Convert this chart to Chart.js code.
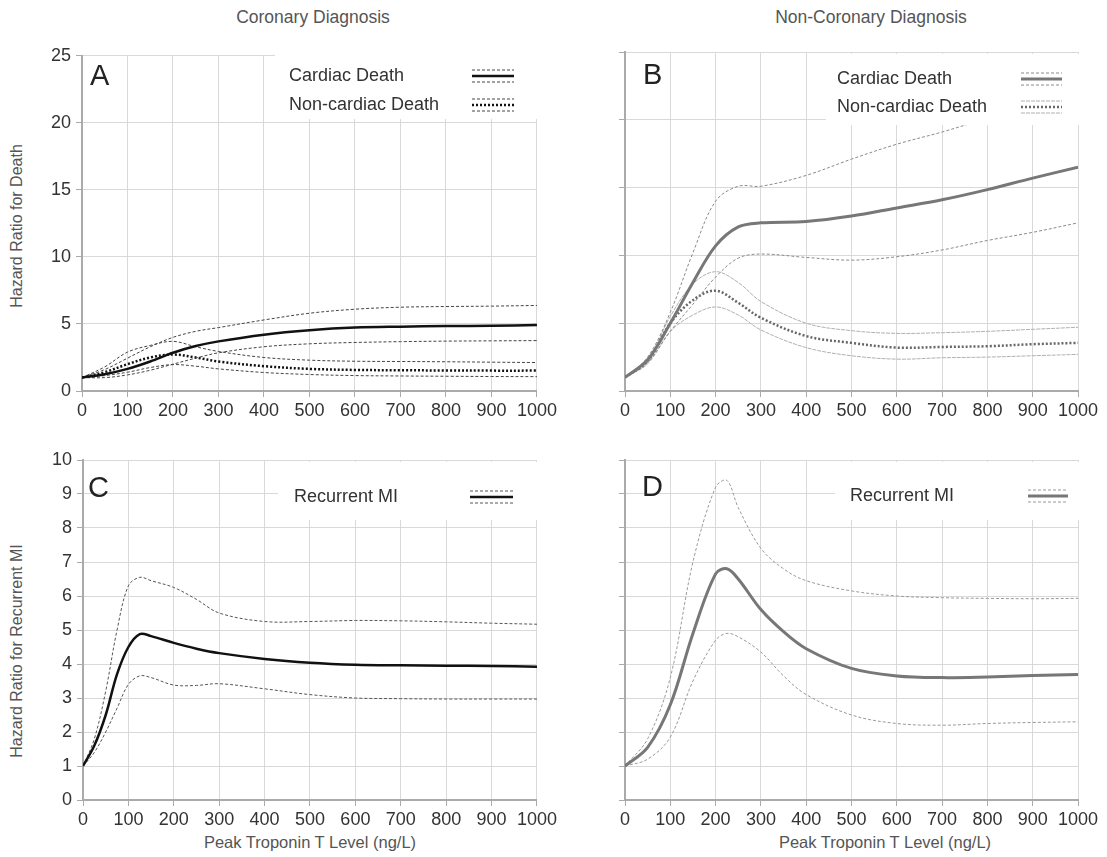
<!DOCTYPE html>
<html>
<head>
<meta charset="utf-8">
<script src="https://cdn.jsdelivr.net/npm/chart.js@4.4.1/dist/chart.umd.min.js"></script>
<style>
  body { margin: 0; background: #fff; font-family: "Liberation Sans", Arial, sans-serif; }
  #page { position: relative; width: 1107px; height: 857px; overflow: hidden; }
  canvas { position: absolute; }
  .lbl { position: absolute; color: #555; white-space: nowrap; transform: translate(-50%, -50%); }
  .rot { transform: translate(-50%, -50%) rotate(-90deg); }
</style>
</head>
<body>
<div id="page">
  <div class="lbl" style="left:313px;top:17px;font-size:17.5px">Coronary Diagnosis</div>
  <div class="lbl" style="left:871px;top:17px;font-size:17.5px">Non-Coronary Diagnosis</div>
  <div class="lbl rot" style="left:17px;top:226px;font-size:16px">Hazard Ratio for Death</div>
  <div class="lbl rot" style="left:17px;top:651px;font-size:16px">Hazard Ratio for Recurrent MI</div>
  <div class="lbl" style="left:310px;top:842px;font-size:16.5px">Peak Troponin T Level (ng/L)</div>
  <div class="lbl" style="left:885px;top:842px;font-size:16.5px">Peak Troponin T Level (ng/L)</div>

  <canvas id="chartA" width="560" height="380" style="left:0;top:40px"></canvas>
  <canvas id="chartB" width="547" height="380" style="left:560px;top:40px"></canvas>
  <canvas id="chartC" width="560" height="417" style="left:0;top:440px"></canvas>
  <canvas id="chartD" width="547" height="417" style="left:560px;top:440px"></canvas>
</div>
<script>
// Peak troponin T (ng/L) sample points and hazard ratios with 95% CI
var troponinAB = [0, 50, 100, 150, 200, 250, 300, 400, 500, 600, 700, 800, 900, 1000];

// A: coronary diagnosis, death
var cardiacA   = [1, 1.25, 1.65, 2.2, 2.85, 3.35, 3.7, 4.2, 4.53, 4.73, 4.8, 4.84, 4.87, 4.92];
var cardiacALo = [1, 1.0, 1.2, 1.55, 2.0, 2.45, 2.85, 3.3, 3.52, 3.62, 3.68, 3.72, 3.74, 3.76];
var cardiacAHi = [1, 1.6, 2.45, 3.3, 4.0, 4.45, 4.73, 5.3, 5.8, 6.1, 6.25, 6.3, 6.33, 6.38];
var nonCardA   = [1, 1.4, 2.0, 2.5, 2.72, 2.5, 2.2, 1.85, 1.65, 1.57, 1.55, 1.53, 1.52, 1.52];
var nonCardALo = [1, 1.15, 1.4, 1.75, 1.97, 1.85, 1.65, 1.38, 1.23, 1.15, 1.12, 1.1, 1.08, 1.07];
var nonCardAHi = [1, 1.8, 2.9, 3.4, 3.7, 3.3, 2.95, 2.5, 2.3, 2.22, 2.2, 2.18, 2.15, 2.12];

// B: non-coronary diagnosis, death
var cardiacB   = [1, 2.3, 5.0, 8.0, 10.7, 12.1, 12.4, 12.5, 12.9, 13.5, 14.1, 14.85, 15.7, 16.5];
var cardiacBLo = [1, 2.1, 4.4, 6.4, 8.4, 9.8, 10.1, 9.85, 9.65, 9.9, 10.4, 11.1, 11.7, 12.4];
var cardiacBHi = [1, 2.5, 5.8, 10.2, 14.0, 15.1, 15.1, 15.9, 17.1, 18.2, 19.1, 20.1, 21.0, 21.9];
var nonCardB   = [1, 2.2, 5.0, 6.7, 7.4, 6.5, 5.4, 4.05, 3.55, 3.2, 3.25, 3.3, 3.45, 3.55];
var nonCardBLo = [1, 2.0, 4.4, 5.6, 6.2, 5.6, 4.5, 3.2, 2.6, 2.35, 2.45, 2.5, 2.6, 2.7];
var nonCardBHi = [1, 2.3, 5.5, 7.9, 8.8, 8.0, 6.6, 5.0, 4.45, 4.25, 4.3, 4.4, 4.55, 4.7];

// C: coronary diagnosis, recurrent MI
var troponinC = [0, 25, 50, 75, 100, 125, 150, 200, 250, 300, 400, 500, 600, 700, 800, 900, 1000];
var recurC    = [1, 1.6, 2.5, 3.7, 4.5, 4.88, 4.82, 4.62, 4.45, 4.32, 4.15, 4.04, 3.98, 3.96, 3.95, 3.94, 3.92];
var recurCLo  = [1, 1.4, 2.0, 2.7, 3.4, 3.65, 3.6, 3.38, 3.37, 3.42, 3.27, 3.1, 3.0, 2.98, 2.97, 2.97, 2.97];
var recurCHi  = [1, 1.8, 3.2, 5.0, 6.3, 6.55, 6.45, 6.25, 5.9, 5.5, 5.25, 5.25, 5.28, 5.27, 5.24, 5.2, 5.17];

// D: non-coronary diagnosis, recurrent MI
var troponinD = [0, 50, 100, 150, 200, 225, 250, 300, 350, 400, 500, 600, 700, 800, 900, 1000];
var recurD    = [1, 1.55, 2.8, 4.9, 6.65, 6.8, 6.5, 5.6, 4.95, 4.45, 3.87, 3.65, 3.6, 3.62, 3.66, 3.69];
var recurDLo  = [1, 1.2, 1.85, 3.5, 4.7, 4.9, 4.8, 4.35, 3.65, 3.1, 2.5, 2.25, 2.2, 2.25, 2.28, 2.3];
var recurDHi  = [1, 1.8, 3.6, 7.0, 9.2, 9.4, 8.6, 7.4, 6.8, 6.45, 6.15, 6.0, 5.95, 5.93, 5.92, 5.93];

var FONT = '"Liberation Sans", Arial, sans-serif';

function pts(xs, ys) {
  return xs.map(function (x, i) { return { x: x, y: ys[i] }; });
}

function line(xs, ys, color, width, dash) {
  return {
    data: pts(xs, ys),
    borderColor: color,
    borderWidth: width,
    borderDash: dash || [],
    pointRadius: 0,
    fill: false,
    tension: 0.35
  };
}

// white key box drawn over the plot, with panel letter
var keyBox = {
  id: 'keyBox',
  afterDatasetsDraw: function (chart, args, o) {
    var ctx = chart.ctx;
    var sets = chart.data.datasets;
    ctx.save();
    ctx.fillStyle = '#fff';
    ctx.fillRect(o.box[0], o.box[1], o.box[2], o.box[3]);
    ctx.textBaseline = 'middle';
    ctx.font = '18px ' + FONT;
    o.rows.forEach(function (r) {
      ctx.fillStyle = '#333';
      ctx.setLineDash([]);
      ctx.fillText(r.label, o.textX, r.y);
      [[r.lo, 6], [r.hi, -6], [r.main, 0]].forEach(function (p) {
        var ds = sets[p[0]];
        ctx.strokeStyle = ds.borderColor;
        ctx.lineWidth = ds.borderWidth;
        ctx.setLineDash(ds.borderDash || []);
        ctx.beginPath();
        ctx.moveTo(o.sample[0], r.y + p[1]);
        ctx.lineTo(o.sample[1], r.y + p[1]);
        ctx.stroke();
      });
    });
    ctx.setLineDash([]);
    ctx.fillStyle = '#222';
    ctx.textBaseline = 'alphabetic';
    ctx.font = '29px ' + FONT;
    ctx.fillText(o.letter, o.letterAt[0], o.letterAt[1]);
    ctx.restore();
  }
};

function scales(yMax, yStep, yWidth, xHeight, showY) {
  return {
    x: {
      type: 'linear', min: 0, max: 1000,
      afterFit: function (s) { s.height = xHeight; },
      ticks: {
        stepSize: 100, color: '#333', font: { family: FONT, size: 18 }, padding: 3,
        maxRotation: 0, autoSkip: false,
        callback: function (v) { return String(v); }
      },
      grid: { color: '#d9d9d9', tickColor: '#aaa', tickLength: 6 },
      border: { color: '#aaa', width: 2 }
    },
    y: {
      type: 'linear', min: 0, max: yMax,
      afterFit: function (s) { s.width = yWidth; },
      ticks: { stepSize: yStep, display: showY, color: '#333', font: { family: FONT, size: 18 }, padding: 5 },
      grid: { color: '#d9d9d9', tickColor: '#aaa', tickLength: 6 },
      border: { color: '#aaa', width: 2 }
    }
  };
}

function panel(id, datasets, sc, pad, key) {
  return new Chart(document.getElementById(id), {
    type: 'line',
    data: { datasets: datasets },
    options: {
      responsive: false,
      animation: false,
      layout: { padding: pad },
      scales: sc,
      plugins: { legend: { display: false }, tooltip: { enabled: false }, keyBox: key }
    },
    plugins: [keyBox]
  });
}

var ciDark = [3, 2];
var dots = [2, 2];

panel('chartA', [
  line(troponinAB, cardiacA, '#111', 2.5),
  line(troponinAB, cardiacALo, '#444', 1, ciDark),
  line(troponinAB, cardiacAHi, '#444', 1, ciDark),
  line(troponinAB, nonCardA, '#111', 2.5, dots),
  line(troponinAB, nonCardALo, '#444', 1, ciDark),
  line(troponinAB, nonCardAHi, '#444', 1, ciDark)
], scales(25, 5, 82, 29, true), { top: 12, right: 23, left: 0, bottom: 0 }, {
  box: [275, 14, 265, 65], textX: 289, sample: [472, 514],
  rows: [{ label: 'Cardiac Death', y: 36, main: 0, lo: 1, hi: 2 },
         { label: 'Non-cardiac Death', y: 65, main: 3, lo: 4, hi: 5 }],
  letter: 'A', letterAt: [90, 45]
});

panel('chartB', [
  line(troponinAB, cardiacB, '#777', 3),
  line(troponinAB, cardiacBLo, '#8a8a8a', 1, ciDark),
  line(troponinAB, cardiacBHi, '#8a8a8a', 1, ciDark),
  line(troponinAB, nonCardB, '#666', 2.5, dots),
  line(troponinAB, nonCardBLo, '#b0b0b0', 1, [4, 1]),
  line(troponinAB, nonCardBHi, '#b0b0b0', 1, [4, 1])
], scales(25, 5, 65, 29, false), { top: 12, right: 29, left: 0, bottom: 0 }, {
  box: [266, 14, 256, 71], textX: 277, sample: [461, 502],
  rows: [{ label: 'Cardiac Death', y: 39, main: 0, lo: 1, hi: 2 },
         { label: 'Non-cardiac Death', y: 67, main: 3, lo: 4, hi: 5 }],
  letter: 'B', letterAt: [83, 44]
});

panel('chartC', [
  line(troponinC, recurC, '#111', 2.5),
  line(troponinC, recurCLo, '#555', 1, ciDark),
  line(troponinC, recurCHi, '#555', 1, ciDark)
], scales(10, 1, 83, 57, true), { top: 20, right: 23, left: 0, bottom: 0 }, {
  box: [278, 22, 262, 58], textX: 294, sample: [470, 513],
  rows: [{ label: 'Recurrent MI', y: 57, main: 0, lo: 1, hi: 2 }],
  letter: 'C', letterAt: [88, 57]
});

panel('chartD', [
  line(troponinD, recurD, '#777', 3),
  line(troponinD, recurDLo, '#999', 1, ciDark),
  line(troponinD, recurDHi, '#999', 1, ciDark)
], scales(10, 1, 65, 57, false), { top: 20, right: 29, left: 0, bottom: 0 }, {
  box: [275, 22, 247, 58], textX: 290, sample: [468, 508],
  rows: [{ label: 'Recurrent MI', y: 56, main: 0, lo: 1, hi: 2 }],
  letter: 'D', letterAt: [82, 56]
});
</script>
</body>
</html>
